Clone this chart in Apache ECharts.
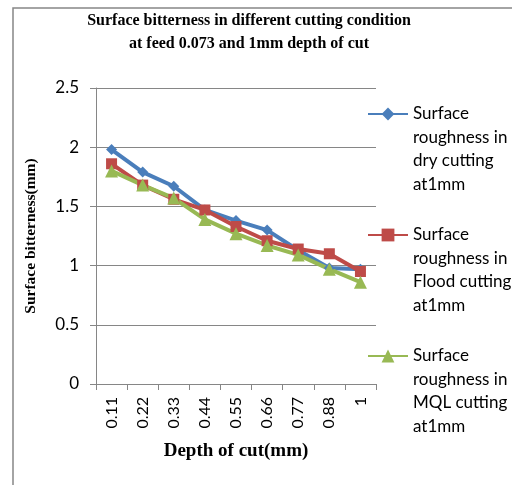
<!DOCTYPE html>
<html>
<head>
<meta charset="utf-8">
<script src="https://cdn.jsdelivr.net/npm/echarts@6/dist/echarts.min.js"></script>
<style>html,body{margin:0;padding:0;background:#fff}#c{width:512px;height:485px}</style>
</head>
<body>
<div id="c"></div>
<script>
const categories = ['0.11','0.22','0.33','0.44','0.55','0.66','0.77','0.88','1'];
const dryValues = [1.98, 1.79, 1.67, 1.47, 1.38, 1.30, 1.13, 0.98, 0.97];
const floodValues = [1.86, 1.68, 1.56, 1.47, 1.33, 1.21, 1.14, 1.10, 0.95];
const mqlValues = [1.80, 1.68, 1.57, 1.39, 1.27, 1.17, 1.09, 0.97, 0.86];
const yTicks = { min: 0, max: 2.5, interval: 0.5 };
const seriesNames = [
  'Surface roughness in dry cutting at1mm',
  'Surface roughness in Flood cutting at1mm',
  'Surface roughness in MQL cutting at1mm'
];
const legendLines = {
  'Surface roughness in dry cutting at1mm': ['Surface','roughness in','dry cutting','at1mm'],
  'Surface roughness in Flood cutting at1mm': ['Surface','roughness in','Flood cutting','at1mm'],
  'Surface roughness in MQL cutting at1mm': ['Surface','roughness in','MQL cutting','at1mm']
};
const titleText = 'Surface bitterness in different cutting condition\nat feed 0.073 and 1mm depth of cut';

const chart = echarts.init(document.getElementById('c'), null, {renderer: 'canvas'});
const gray = '#868686';
const serif = 'Liberation Serif';
const sans = 'Lato';
chart.setOption({
  animation: false,
  backgroundColor: '#fff',
  graphic: [
    {type: 'rect', shape: {x: 13, y: 8, width: 600, height: 600}, style: {fill: 'none', stroke: gray, lineWidth: 1.5}, silent: true},
    {type: 'text', x: 249, y: 32, style: {text: titleText, align: 'center', verticalAlign: 'middle', font: 'bold 16px "Liberation Serif"', fill: '#000', lineHeight: 23}}
  ],
  grid: {left: 96, right: 136, top: 88, bottom: 101, containLabel: false},
  legend: {
    orient: 'vertical', left: 367, top: 31.75, padding: 0,
    itemWidth: 40, itemHeight: 16, itemGap: -43.5,
    data: seriesNames,
    formatter: function (n) { return '\n\n\n' + legendLines[n].join('\n'); },
    textStyle: {fontFamily: sans, fontSize: 17, lineHeight: 23.5, color: '#000'}
  },
  xAxis: {
    type: 'category', data: categories, boundaryGap: true,
    name: 'Depth of cut(mm)', nameLocation: 'middle', nameGap: 58,
    nameTextStyle: {fontFamily: serif, fontWeight: 'bold', fontSize: 19, color: '#000'},
    axisLine: {lineStyle: {color: gray, width: 1}},
    axisTick: {show: true, interval: 0, length: 6, lineStyle: {color: gray}},
    axisLabel: {interval: 0, rotate: 90, margin: 13, fontFamily: sans, fontSize: 16, color: '#000'},
    splitLine: {show: false}
  },
  yAxis: {
    type: 'value', min: yTicks.min, max: yTicks.max, interval: yTicks.interval,
    name: 'Surface bitterness(mm)', nameLocation: 'middle', nameGap: 57, nameRotate: 90,
    nameTextStyle: {fontFamily: serif, fontWeight: 'bold', fontSize: 15.5, color: '#000'},
    axisLine: {show: true, lineStyle: {color: gray, width: 1}},
    axisTick: {show: true, length: 6, lineStyle: {color: gray}},
    axisLabel: {margin: 17, fontFamily: sans, fontSize: 17, color: '#000'},
    splitLine: {show: true, lineStyle: {color: gray, width: 1}}
  },
  series: [
    {name: seriesNames[0], type: 'line', data: dryValues, symbol: 'diamond', symbolSize: 11,
     lineStyle: {color: '#4A7EBB', width: 4}, itemStyle: {color: '#4A7EBB'}},
    {name: seriesNames[1], type: 'line', data: floodValues, symbol: 'rect', symbolSize: 11,
     lineStyle: {color: '#BE4B48', width: 4}, itemStyle: {color: '#BE4B48'}},
    {name: seriesNames[2], type: 'line', data: mqlValues, symbol: 'triangle', symbolSize: 13,
     lineStyle: {color: '#98B954', width: 4}, itemStyle: {color: '#98B954'}}
  ]
});
</script>
</body>
</html>
